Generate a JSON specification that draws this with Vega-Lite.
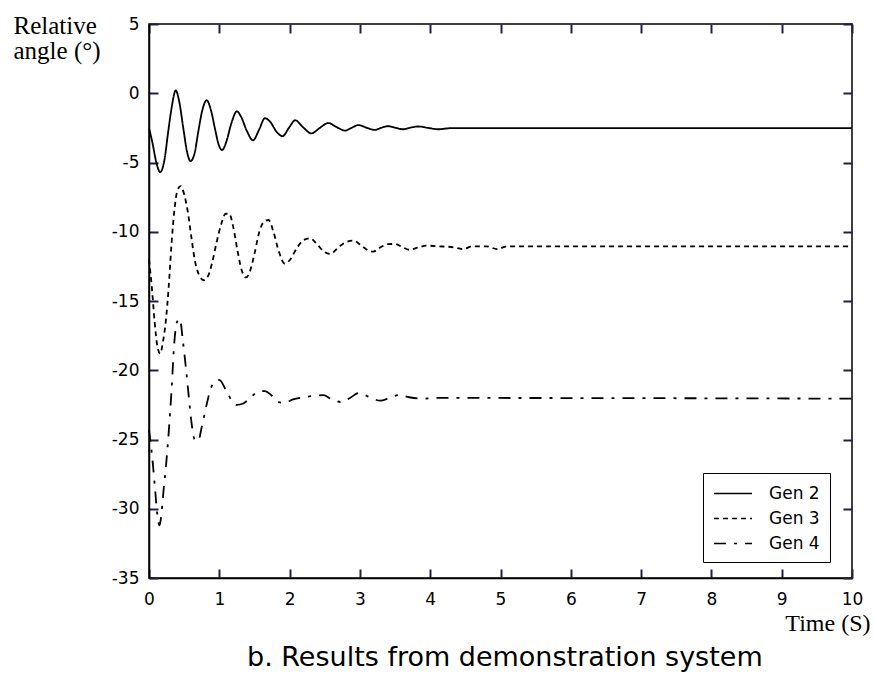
{
  "$schema": "https://vega.github.io/schema/vega-lite/v6.json",
  "width": 703,
  "height": 554,
  "autosize": "none",
  "padding": {"left": 149, "top": 24, "right": 22, "bottom": 104},
  "background": "white",
  "config": {
    "view": {"stroke": "black", "strokeWidth": 1.5},
    "axis": {
      "grid": false,
      "domainColor": "black",
      "domainWidth": 1.5,
      "labelFont": "DejaVu Sans",
      "labelFontSize": 17,
      "labelColor": "black",
      "labelFlush": false,
      "labelOverlap": false,
      "labelBound": false,
      "titleColor": "black",
      "titleFont": "Liberation Serif",
      "titleFontSize": 24,
      "titleFontWeight": "normal"
    }
  },
  "title": {
    "text": "b. Results from demonstration system",
    "orient": "bottom",
    "anchor": "start",
    "frame": "group",
    "dx": 98,
    "offset": 10,
    "font": "DejaVu Sans",
    "fontSize": 27,
    "fontWeight": "normal",
    "color": "black",
    "baseline": "top"
  },
  "data": {
    "values": [
      {"series": "Gen 2", "t": 0, "v": -2.5},
      {"series": "Gen 2", "t": 0.05, "v": -3.6},
      {"series": "Gen 2", "t": 0.1, "v": -4.9},
      {"series": "Gen 2", "t": 0.16, "v": -5.7},
      {"series": "Gen 2", "t": 0.22, "v": -4.8},
      {"series": "Gen 2", "t": 0.27, "v": -2.9},
      {"series": "Gen 2", "t": 0.32, "v": -1.1},
      {"series": "Gen 2", "t": 0.38, "v": 0.2},
      {"series": "Gen 2", "t": 0.43, "v": -0.6},
      {"series": "Gen 2", "t": 0.49, "v": -2.6},
      {"series": "Gen 2", "t": 0.54, "v": -4.2},
      {"series": "Gen 2", "t": 0.59, "v": -4.9},
      {"series": "Gen 2", "t": 0.65, "v": -4.3},
      {"series": "Gen 2", "t": 0.7, "v": -2.8},
      {"series": "Gen 2", "t": 0.76, "v": -1.2},
      {"series": "Gen 2", "t": 0.82, "v": -0.5},
      {"series": "Gen 2", "t": 0.88, "v": -1.2},
      {"series": "Gen 2", "t": 0.94, "v": -2.6},
      {"series": "Gen 2", "t": 0.99, "v": -3.7},
      {"series": "Gen 2", "t": 1.04, "v": -4.1},
      {"series": "Gen 2", "t": 1.1, "v": -3.5},
      {"series": "Gen 2", "t": 1.17, "v": -2.2},
      {"series": "Gen 2", "t": 1.25, "v": -1.3},
      {"series": "Gen 2", "t": 1.31, "v": -1.7},
      {"series": "Gen 2", "t": 1.39, "v": -2.7},
      {"series": "Gen 2", "t": 1.48, "v": -3.4},
      {"series": "Gen 2", "t": 1.56, "v": -2.7},
      {"series": "Gen 2", "t": 1.65, "v": -1.8},
      {"series": "Gen 2", "t": 1.73, "v": -2.1},
      {"series": "Gen 2", "t": 1.81, "v": -2.75},
      {"series": "Gen 2", "t": 1.9, "v": -3.1},
      {"series": "Gen 2", "t": 1.99, "v": -2.5},
      {"series": "Gen 2", "t": 2.08, "v": -1.95},
      {"series": "Gen 2", "t": 2.19, "v": -2.45},
      {"series": "Gen 2", "t": 2.31, "v": -2.9},
      {"series": "Gen 2", "t": 2.43, "v": -2.5},
      {"series": "Gen 2", "t": 2.55, "v": -2.15},
      {"series": "Gen 2", "t": 2.67, "v": -2.45},
      {"series": "Gen 2", "t": 2.79, "v": -2.7},
      {"series": "Gen 2", "t": 2.88, "v": -2.5},
      {"series": "Gen 2", "t": 2.98, "v": -2.3},
      {"series": "Gen 2", "t": 3.1, "v": -2.5},
      {"series": "Gen 2", "t": 3.21, "v": -2.65},
      {"series": "Gen 2", "t": 3.3, "v": -2.5},
      {"series": "Gen 2", "t": 3.4, "v": -2.38},
      {"series": "Gen 2", "t": 3.51, "v": -2.5},
      {"series": "Gen 2", "t": 3.62, "v": -2.6},
      {"series": "Gen 2", "t": 3.72, "v": -2.48},
      {"series": "Gen 2", "t": 3.83, "v": -2.4},
      {"series": "Gen 2", "t": 3.97, "v": -2.5},
      {"series": "Gen 2", "t": 4.11, "v": -2.6},
      {"series": "Gen 2", "t": 4.3, "v": -2.52},
      {"series": "Gen 2", "t": 5.0, "v": -2.52},
      {"series": "Gen 2", "t": 10, "v": -2.52},
      {"series": "Gen 3", "t": 0, "v": -12},
      {"series": "Gen 3", "t": 0.04, "v": -14},
      {"series": "Gen 3", "t": 0.08, "v": -16.5},
      {"series": "Gen 3", "t": 0.12, "v": -18.3},
      {"series": "Gen 3", "t": 0.16, "v": -18.8},
      {"series": "Gen 3", "t": 0.2, "v": -17.9},
      {"series": "Gen 3", "t": 0.24, "v": -16.4},
      {"series": "Gen 3", "t": 0.28, "v": -14.0},
      {"series": "Gen 3", "t": 0.32, "v": -10.9},
      {"series": "Gen 3", "t": 0.36, "v": -8.5},
      {"series": "Gen 3", "t": 0.4, "v": -7.1},
      {"series": "Gen 3", "t": 0.45, "v": -6.7},
      {"series": "Gen 3", "t": 0.5, "v": -7.3},
      {"series": "Gen 3", "t": 0.55, "v": -8.5},
      {"series": "Gen 3", "t": 0.6, "v": -10.3},
      {"series": "Gen 3", "t": 0.65, "v": -12.0},
      {"series": "Gen 3", "t": 0.71, "v": -13.1},
      {"series": "Gen 3", "t": 0.78, "v": -13.5},
      {"series": "Gen 3", "t": 0.84, "v": -13.2},
      {"series": "Gen 3", "t": 0.9, "v": -12.2},
      {"series": "Gen 3", "t": 0.96, "v": -10.8},
      {"series": "Gen 3", "t": 1.03, "v": -9.4},
      {"series": "Gen 3", "t": 1.09, "v": -8.7},
      {"series": "Gen 3", "t": 1.14, "v": -8.7},
      {"series": "Gen 3", "t": 1.2, "v": -9.7},
      {"series": "Gen 3", "t": 1.26, "v": -11.4},
      {"series": "Gen 3", "t": 1.32, "v": -12.8},
      {"series": "Gen 3", "t": 1.38, "v": -13.3},
      {"series": "Gen 3", "t": 1.44, "v": -12.8},
      {"series": "Gen 3", "t": 1.5, "v": -11.6},
      {"series": "Gen 3", "t": 1.57, "v": -10.0},
      {"series": "Gen 3", "t": 1.63, "v": -9.3},
      {"series": "Gen 3", "t": 1.7, "v": -9.15},
      {"series": "Gen 3", "t": 1.77, "v": -10.0},
      {"series": "Gen 3", "t": 1.84, "v": -11.3},
      {"series": "Gen 3", "t": 1.93, "v": -12.3},
      {"series": "Gen 3", "t": 2.01, "v": -12.0},
      {"series": "Gen 3", "t": 2.1, "v": -11.2},
      {"series": "Gen 3", "t": 2.2, "v": -10.6},
      {"series": "Gen 3", "t": 2.29, "v": -10.47},
      {"series": "Gen 3", "t": 2.39, "v": -10.9},
      {"series": "Gen 3", "t": 2.48, "v": -11.4},
      {"series": "Gen 3", "t": 2.58, "v": -11.6},
      {"series": "Gen 3", "t": 2.7, "v": -11.1},
      {"series": "Gen 3", "t": 2.8, "v": -10.75},
      {"series": "Gen 3", "t": 2.91, "v": -10.64},
      {"series": "Gen 3", "t": 3.02, "v": -11.0},
      {"series": "Gen 3", "t": 3.12, "v": -11.35},
      {"series": "Gen 3", "t": 3.19, "v": -11.43},
      {"series": "Gen 3", "t": 3.3, "v": -11.1},
      {"series": "Gen 3", "t": 3.4, "v": -10.9},
      {"series": "Gen 3", "t": 3.5, "v": -10.88},
      {"series": "Gen 3", "t": 3.6, "v": -11.1},
      {"series": "Gen 3", "t": 3.7, "v": -11.3},
      {"series": "Gen 3", "t": 3.82, "v": -11.15},
      {"series": "Gen 3", "t": 3.95, "v": -11.0},
      {"series": "Gen 3", "t": 4.1, "v": -11.05},
      {"series": "Gen 3", "t": 4.3, "v": -11.1},
      {"series": "Gen 3", "t": 4.47, "v": -11.25},
      {"series": "Gen 3", "t": 4.6, "v": -11.05},
      {"series": "Gen 3", "t": 4.8, "v": -11.05},
      {"series": "Gen 3", "t": 4.95, "v": -11.25},
      {"series": "Gen 3", "t": 5.1, "v": -11.05},
      {"series": "Gen 3", "t": 10, "v": -11.05},
      {"series": "Gen 4", "t": 0, "v": -24.3},
      {"series": "Gen 4", "t": 0.05, "v": -26.5},
      {"series": "Gen 4", "t": 0.09, "v": -28.8},
      {"series": "Gen 4", "t": 0.12, "v": -30.5},
      {"series": "Gen 4", "t": 0.15, "v": -31.2},
      {"series": "Gen 4", "t": 0.18, "v": -30.2},
      {"series": "Gen 4", "t": 0.21, "v": -28.5},
      {"series": "Gen 4", "t": 0.24, "v": -27.0},
      {"series": "Gen 4", "t": 0.28, "v": -24.5},
      {"series": "Gen 4", "t": 0.32, "v": -21.5},
      {"series": "Gen 4", "t": 0.36, "v": -18.0},
      {"series": "Gen 4", "t": 0.4, "v": -16.5},
      {"series": "Gen 4", "t": 0.44, "v": -16.3},
      {"series": "Gen 4", "t": 0.48, "v": -17.8},
      {"series": "Gen 4", "t": 0.52, "v": -19.6},
      {"series": "Gen 4", "t": 0.56, "v": -21.6},
      {"series": "Gen 4", "t": 0.6, "v": -23.6},
      {"series": "Gen 4", "t": 0.65, "v": -25.0},
      {"series": "Gen 4", "t": 0.7, "v": -25.1},
      {"series": "Gen 4", "t": 0.75, "v": -24.1},
      {"series": "Gen 4", "t": 0.81, "v": -22.7},
      {"series": "Gen 4", "t": 0.88, "v": -21.3},
      {"series": "Gen 4", "t": 0.94, "v": -20.8},
      {"series": "Gen 4", "t": 1.0, "v": -20.7},
      {"series": "Gen 4", "t": 1.1, "v": -21.5},
      {"series": "Gen 4", "t": 1.18, "v": -22.2},
      {"series": "Gen 4", "t": 1.25, "v": -22.5},
      {"series": "Gen 4", "t": 1.34, "v": -22.4},
      {"series": "Gen 4", "t": 1.44, "v": -22.0},
      {"series": "Gen 4", "t": 1.55, "v": -21.55},
      {"series": "Gen 4", "t": 1.65, "v": -21.5},
      {"series": "Gen 4", "t": 1.74, "v": -21.8},
      {"series": "Gen 4", "t": 1.84, "v": -22.3},
      {"series": "Gen 4", "t": 1.93, "v": -22.35},
      {"series": "Gen 4", "t": 2.05, "v": -22.1},
      {"series": "Gen 4", "t": 2.2, "v": -21.95},
      {"series": "Gen 4", "t": 2.35, "v": -21.85},
      {"series": "Gen 4", "t": 2.48, "v": -21.8},
      {"series": "Gen 4", "t": 2.6, "v": -22.1},
      {"series": "Gen 4", "t": 2.74, "v": -22.3},
      {"series": "Gen 4", "t": 2.86, "v": -22.0},
      {"series": "Gen 4", "t": 2.98, "v": -21.65},
      {"series": "Gen 4", "t": 3.12, "v": -21.9},
      {"series": "Gen 4", "t": 3.29, "v": -22.2},
      {"series": "Gen 4", "t": 3.42, "v": -22.0},
      {"series": "Gen 4", "t": 3.55, "v": -21.8},
      {"series": "Gen 4", "t": 3.7, "v": -21.95},
      {"series": "Gen 4", "t": 3.9, "v": -22.05},
      {"series": "Gen 4", "t": 4.1, "v": -22.0},
      {"series": "Gen 4", "t": 10, "v": -22.05}
    ]
  },
  "layer": [
    {
      "mark": {"type": "line", "color": "black", "strokeWidth": 1.8, "interpolate": "monotone"},
      "encoding": {
        "x": {
          "field": "t",
          "type": "quantitative",
          "scale": {"domain": [0, 10], "nice": false, "zero": false},
          "axis": {
            "orient": "bottom",
            "tickCount": 10,
            "tickSize": -9,
            "tickColor": "#202040",
            "tickOpacity": 1,
            "tickWidth": 2,
            "labelPadding": 22,
            "title": "Time (S)",
            "titleX": 721,
            "titleY": 52,
            "titleAlign": "right",
            "titleBaseline": "alphabetic"
          }
        },
        "y": {
          "field": "v",
          "type": "quantitative",
          "scale": {"domain": [-35, 5], "nice": false, "zero": false},
          "axis": {
            "orient": "left",
            "tickCount": 8,
            "tickSize": -9,
            "tickColor": "#202040",
            "tickOpacity": 1,
            "tickWidth": 2,
            "labelPadding": 19,
            "labelExpr": "replace(datum.label, '\u2212', '-')",
            "title": ["Relative", "angle (°)"],
            "titleAngle": 0,
            "titleX": -136,
            "titleY": 9,
            "titleAlign": "left",
            "titleBaseline": "alphabetic",
            "titleLineHeight": 25,
            "titleFontSize": 25
          }
        },
        "strokeDash": {
          "field": "series",
          "type": "nominal",
          "scale": {
            "domain": ["Gen 2", "Gen 3", "Gen 4"],
            "range": [[1, 0], [5, 4], [12, 8, 3, 8]]
          },
          "legend": {
            "title": null,
            "orient": "none",
            "legendX": 554,
            "legendY": 449,
            "strokeColor": "black",
            "fillColor": "white",
            "padding": 10,
            "rowPadding": 6,
            "symbolType": "M-1,0H3",
            "symbolSize": 361,
            "symbolStrokeColor": "black",
            "symbolStrokeWidth": 1.5,
            "labelFont": "DejaVu Sans",
            "labelFontSize": 17,
            "labelColor": "black",
            "labelOffset": 35
          }
        }
      }
    },
    {
      "mark": {"type": "line", "opacity": 0},
      "encoding": {
        "x": {
          "field": "t",
          "type": "quantitative",
          "scale": {"domain": [0, 10], "nice": false, "zero": false},
          "axis": {"orient": "top", "tickCount": 10, "tickSize": -9, "tickColor": "#202040", "tickOpacity": 1, "tickWidth": 2, "domain": false, "labels": false, "title": null}
        },
        "y": {
          "field": "v",
          "type": "quantitative",
          "scale": {"domain": [-35, 5], "nice": false, "zero": false},
          "axis": {"orient": "right", "tickCount": 8, "tickSize": -9, "tickColor": "#202040", "tickOpacity": 1, "tickWidth": 2, "domain": false, "labels": false, "title": null}
        },
        "detail": {"field": "series", "type": "nominal"}
      }
    }
  ],
  "resolve": {"scale": {"x": "independent", "y": "independent"}}
}
